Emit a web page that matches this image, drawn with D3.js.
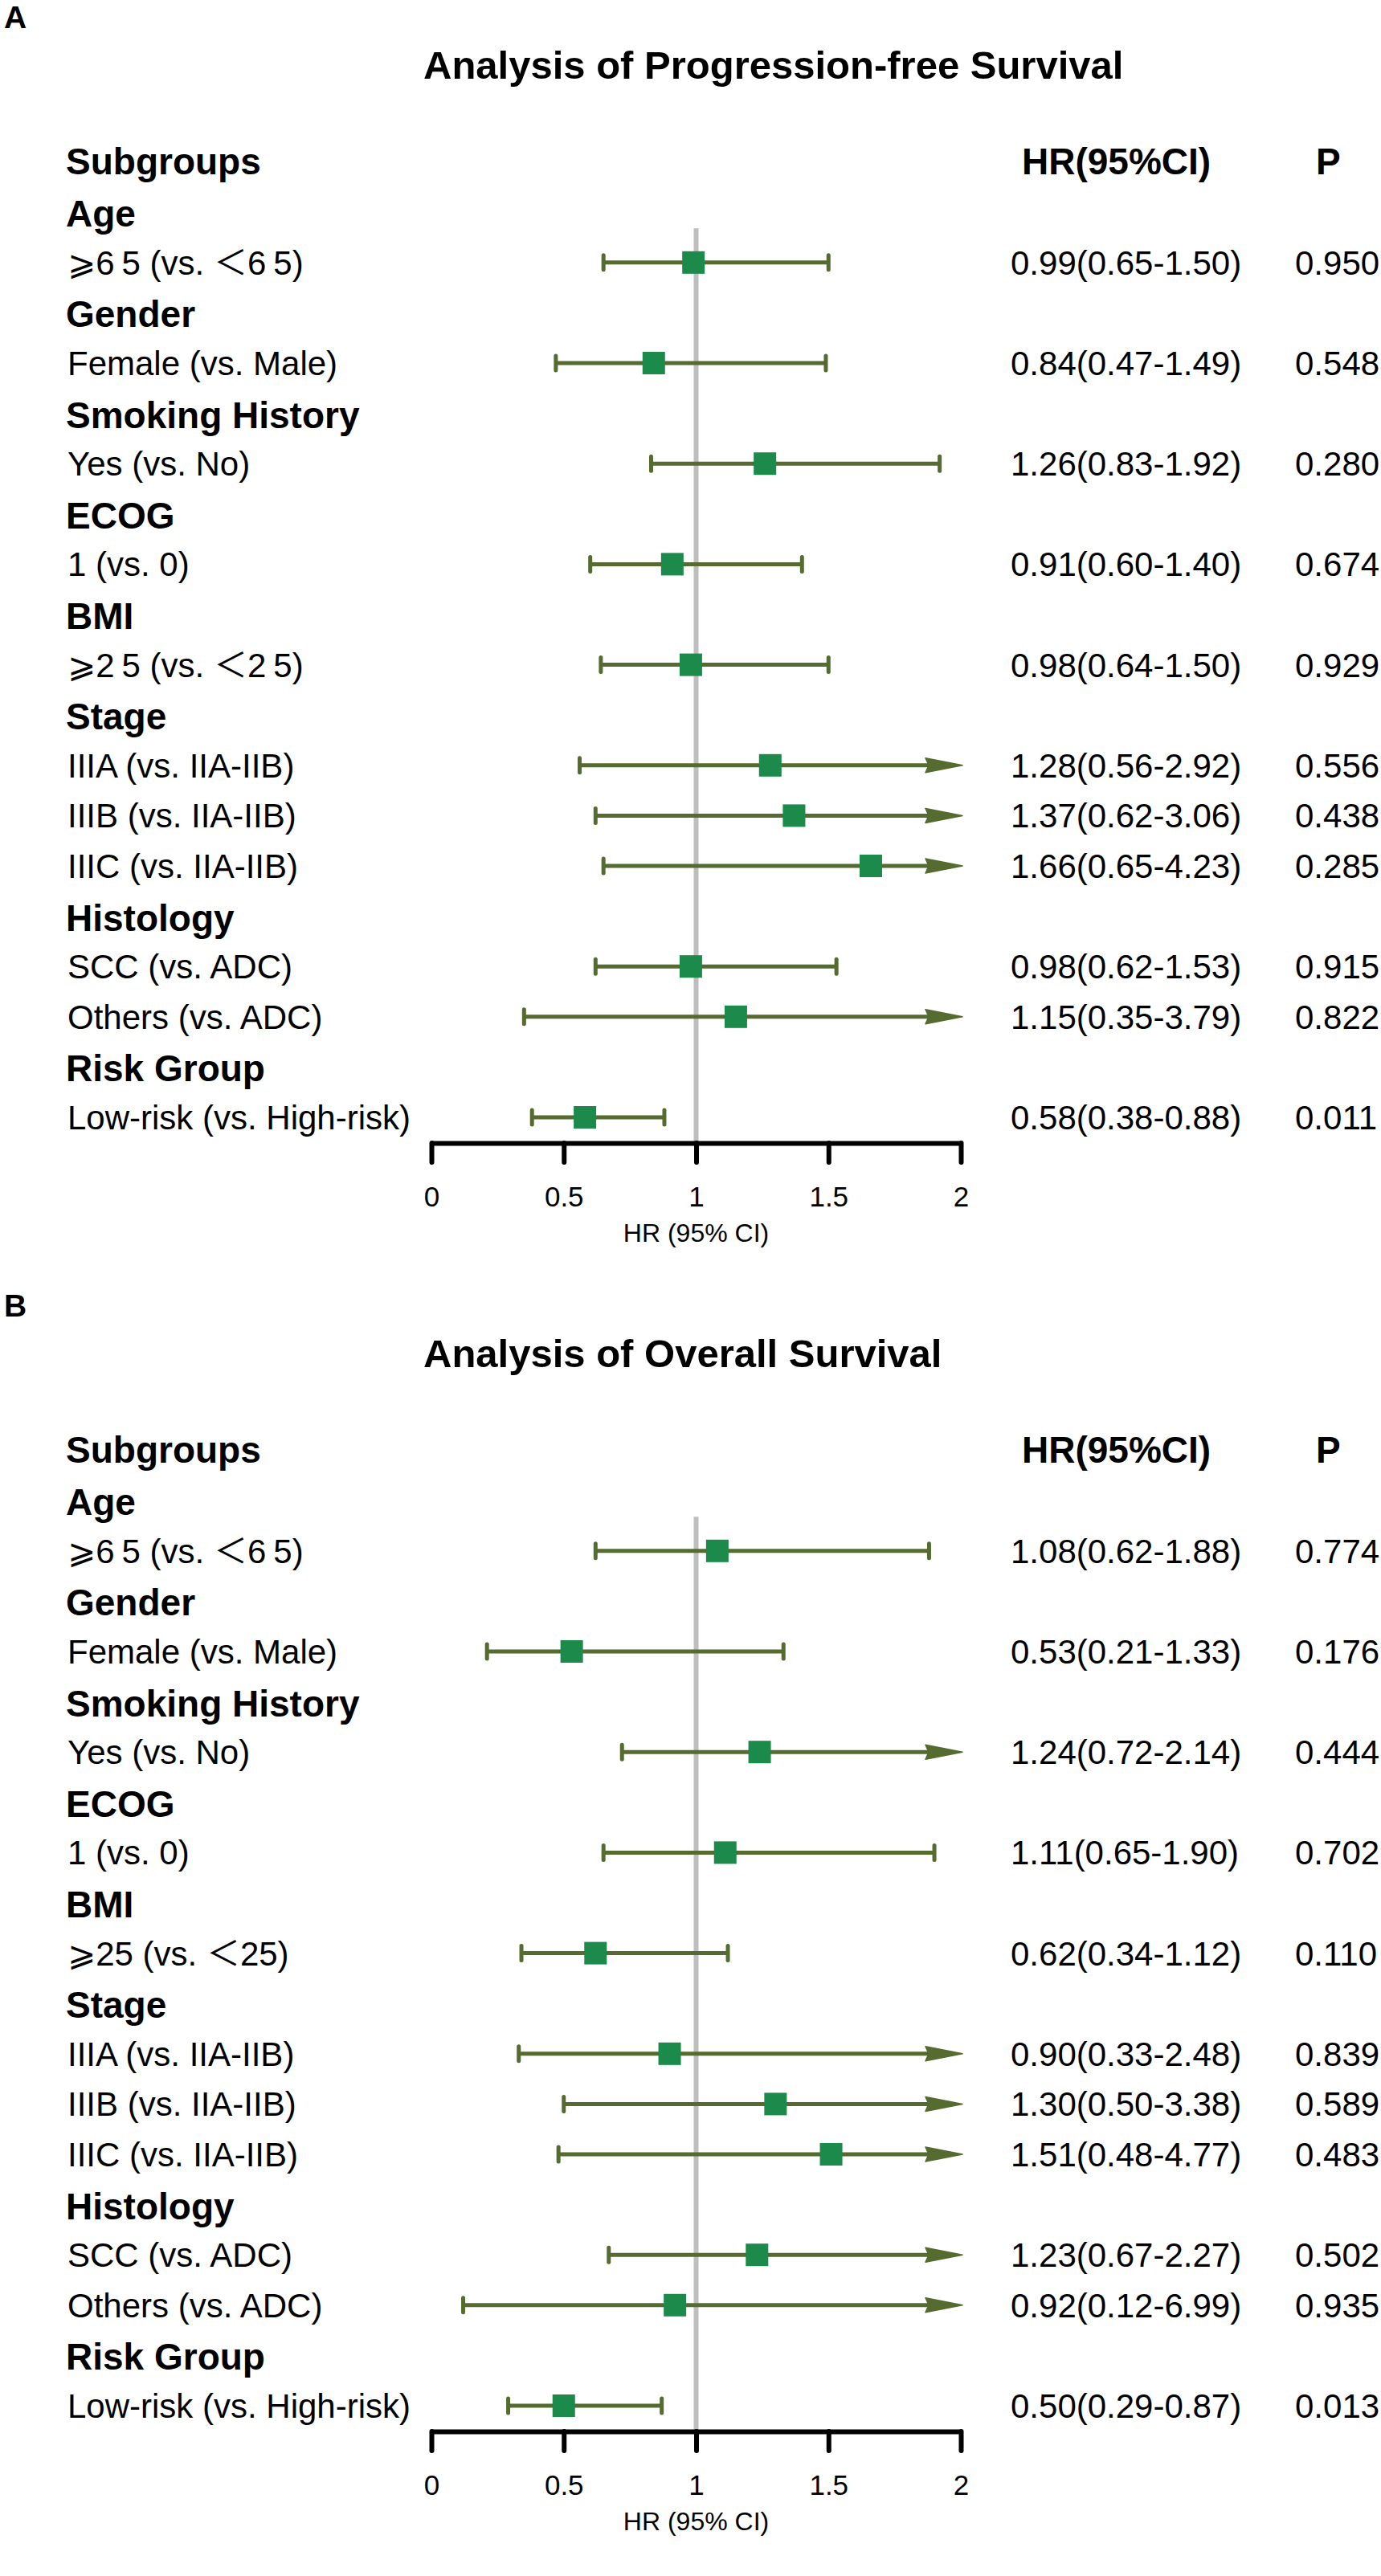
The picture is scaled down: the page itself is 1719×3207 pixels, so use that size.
<!DOCTYPE html>
<html>
<head>
<meta charset="utf-8">
<script src="https://cdn.jsdelivr.net/npm/d3@7"></script>
<style>
  body { margin: 0; background: #fff; }
  text { font-family: "Liberation Sans", Arial, "DejaVu Sans", "Noto Sans CJK SC", sans-serif; }
</style>
</head>
<body>
<svg id="main"></svg>
<script>
// groups and subgroup rows (same for both panels)
const groupNames = ["Age", "Gender", "Smoking History", "ECOG", "BMI", "Stage", "Histology", "Risk Group"];
const subLabels = ["⩾65 (vs. ＜65)", "Female (vs. Male)", "Yes (vs. No)", "1 (vs. 0)", "⩾25 (vs. ＜25)",
    "IIIA (vs. IIA-IIB)", "IIIB (vs. IIA-IIB)", "IIIC (vs. IIA-IIB)",
    "SCC (vs. ADC)", "Others (vs. ADC)", "Low-risk (vs. High-risk)"];
const subGroupIdx = [0, 1, 2, 3, 4, 5, 5, 5, 6, 6, 7];

// A: progression-free survival
const pfsHR   = [0.99, 0.84, 1.26, 0.91, 0.98, 1.28, 1.37, 1.66, 0.98, 1.15, 0.58];
const pfsLow  = [0.65, 0.47, 0.83, 0.60, 0.64, 0.56, 0.62, 0.65, 0.62, 0.35, 0.38];
const pfsHigh = [1.50, 1.49, 1.92, 1.40, 1.50, 2.92, 3.06, 4.23, 1.53, 3.79, 0.88];
const pfsP    = [0.950, 0.548, 0.280, 0.674, 0.929, 0.556, 0.438, 0.285, 0.915, 0.822, 0.011];

// B: overall survival
const osHR   = [1.08, 0.53, 1.24, 1.11, 0.62, 0.90, 1.30, 1.51, 1.23, 0.92, 0.50];
const osLow  = [0.62, 0.21, 0.72, 0.65, 0.34, 0.33, 0.50, 0.48, 0.67, 0.12, 0.29];
const osHigh = [1.88, 1.33, 2.14, 1.90, 1.12, 2.48, 3.38, 4.77, 2.27, 6.99, 0.87];
const osP    = [0.774, 0.176, 0.444, 0.702, 0.110, 0.839, 0.589, 0.483, 0.502, 0.935, 0.013];

const xTicks = [0, 0.5, 1, 1.5, 2];

const W = 1719, H = 3207;
const lineCol = "#556b2f", boxCol = "#1b8a4a";

const svg = d3.select("#main").attr("width", W).attr("height", H);

function buildRows() {
    let rows = [{type: "top", text: "Subgroups"}];
    groupNames.forEach((g, gi) => {
        rows.push({type: "head", text: g});
        subGroupIdx.forEach((s, i) => {
            if (s == gi) rows.push({type: "item", text: subLabels[i], i: i});
        });
    });
    return rows;
}

function drawLabel(sel, str, spaced) {
    if (!spaced) { sel.text(str); return; }
    // digits after the comparison signs are drawn wider apart
    str.split(/([⩾＜]\d+)/).forEach(part => {
        if (/^[⩾＜]\d+$/.test(part)) {
            sel.append("tspan").text(part[0]);
            sel.append("tspan").attr("letter-spacing", 9).text(part[1]);
            sel.append("tspan").text(part.slice(2));
        } else {
            sel.append("tspan").text(part);
        }
    });
}

function panel(offY, letter, title, hr, lo, hi, p, spacedIdx) {
    const g = svg.append("g").attr("transform", `translate(0,${offY})`);
    const rows = buildRows();
    const x = d3.scaleLinear().domain([0, 2]).range([537, 1196]);
    const y = d3.scaleLinear().domain([0, rows.length - 1]).range([201.6, 1391]);
    const axisY = 1423;

    g.append("text").attr("x", 5).attr("y", 35).attr("font-size", 39).attr("font-weight", "bold").text(letter);
    g.append("text").attr("x", 527).attr("y", 98).attr("font-size", 49).attr("font-weight", "bold").text(title);

    // reference line at HR = 1
    g.append("line").attr("x1", x(1)).attr("x2", x(1)).attr("y1", y(1) + 20).attr("y2", axisY)
        .attr("stroke", "#bebebe").attr("stroke-width", 6);

    rows.forEach((r, k) => {
        const t = g.append("text");
        if (r.type == "item") {
            t.attr("x", 84).attr("y", y(k) + 15).attr("font-size", 42);
            drawLabel(t, r.text, spacedIdx.includes(r.i));
        } else {
            t.attr("x", 82).attr("y", y(k) + (r.type == "head" ? 18 : 15))
                .attr("font-size", 46).attr("font-weight", "bold").text(r.text);
        }
    });
    g.append("text").attr("x", 1272).attr("y", y(0) + 15).attr("font-size", 46).attr("font-weight", "bold").text("HR(95%CI)");
    g.append("text").attr("x", 1638).attr("y", y(0) + 15).attr("font-size", 46).attr("font-weight", "bold").text("P");

    const items = rows.map((r, k) => ({...r, k})).filter(r => r.type == "item");

    items.forEach(r => {
        const i = r.i, cy = y(r.k);
        const x0 = x(lo[i]);
        const over = hi[i] > 2;
        const x1 = over ? x(2) - 40 : x(hi[i]);
        g.append("line").attr("x1", x0).attr("x2", x1).attr("y1", cy).attr("y2", cy)
            .attr("stroke", lineCol).attr("stroke-width", 5);
        g.append("line").attr("x1", x0).attr("x2", x0).attr("y1", cy - 9).attr("y2", cy + 9)
            .attr("stroke", lineCol).attr("stroke-width", 5).attr("stroke-linecap", "round");
        if (over) {
            g.append("path")
                .attr("d", `M${x(2) - 44},${cy - 9} L${x(2) + 2},${cy} L${x(2) - 44},${cy + 9} L${x(2) - 40},${cy} Z`)
                .attr("fill", lineCol).attr("stroke", lineCol).attr("stroke-width", 1.5).attr("stroke-linejoin", "round");
        } else {
            g.append("line").attr("x1", x1).attr("x2", x1).attr("y1", cy - 9).attr("y2", cy + 9)
                .attr("stroke", lineCol).attr("stroke-width", 5).attr("stroke-linecap", "round");
        }
        g.append("rect").attr("x", x(hr[i]) - 14).attr("y", cy - 14).attr("width", 28).attr("height", 28)
            .attr("fill", boxCol);

        g.append("text").attr("x", 1258).attr("y", cy + 15).attr("font-size", 42)
            .text(`${hr[i].toFixed(2)}(${lo[i].toFixed(2)}-${hi[i].toFixed(2)})`);
        g.append("text").attr("x", 1612).attr("y", cy + 15).attr("font-size", 42)
            .text(p[i].toFixed(3));
    });

    const ax = g.append("g").attr("transform", `translate(0,${axisY})`)
        .call(d3.axisBottom(x).tickValues(xTicks).tickSize(24).tickSizeOuter(0).tickPadding(30)
            .tickFormat(d3.format("")));
    ax.select(".domain").attr("stroke", "#000").attr("stroke-width", 6);
    ax.selectAll(".tick line").attr("stroke", "#000").attr("stroke-width", 6).attr("stroke-linecap", "round");
    ax.selectAll(".tick text").attr("font-size", 35).attr("fill", "#000")
        .attr("font-family", '"Liberation Sans", Arial, sans-serif');

    g.append("text").attr("x", x(1)).attr("y", 1546).attr("text-anchor", "middle")
        .attr("font-size", 32).text("HR (95% CI)");
}

panel(0, "A", "Analysis of Progression-free Survival", pfsHR, pfsLow, pfsHigh, pfsP, [0, 4]);
panel(1604, "B", "Analysis of Overall Survival", osHR, osLow, osHigh, osP, [0]);
</script>
</body>
</html>
